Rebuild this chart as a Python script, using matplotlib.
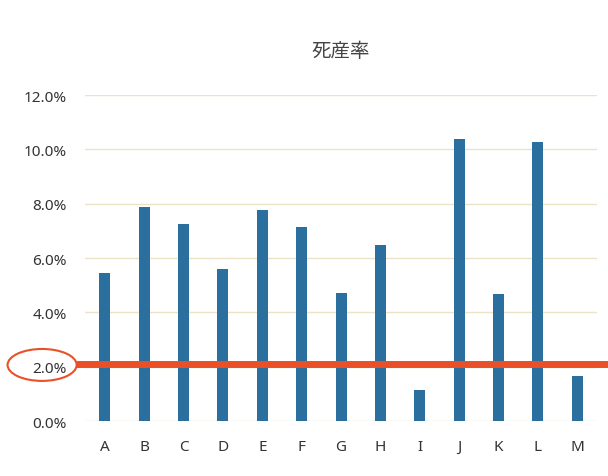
import matplotlib
matplotlib.use("Agg")
import matplotlib.pyplot as plt
from matplotlib.patches import Ellipse
from matplotlib.ticker import FuncFormatter

plt.rcParams['font.family'] = ['Noto Sans CJK JP', 'DejaVu Sans']

categories = ['A', 'B', 'C', 'D', 'E', 'F', 'G', 'H', 'I', 'J', 'K', 'L', 'M']
rates = [0.0544, 0.0789, 0.0726, 0.0559, 0.0778, 0.0715, 0.0470,
         0.0648, 0.0115, 0.1037, 0.0467, 0.1026, 0.0167]
threshold = 0.021
title = '死産率'

fig = plt.figure(figsize=(6.08, 4.77), dpi=100)
ax = fig.add_axes([0.14, 0.1153, 0.842, 0.6834])

# 棒グラフ
x = range(len(categories))
ax.bar(x, rates, width=0.28, color='#2b6f9f', zorder=3)

ax.set_ylim(0, 0.12)
ax.set_xlim(-0.5, len(categories) - 0.5)
ax.set_yticks([0, 0.02, 0.04, 0.06, 0.08, 0.10, 0.12])
ax.yaxis.set_major_formatter(FuncFormatter(lambda v, p: f'{v * 100:.1f}%'))
ax.set_xticks(list(x))
ax.set_xticklabels(categories)

ax.grid(axis='y', color='#ebe2c8', linewidth=1.0, zorder=0)
for s in ax.spines.values():
    s.set_visible(False)
ax.tick_params(length=0, labelsize=11, colors='#333333')
ax.tick_params(axis='x', pad=13)
ax.tick_params(axis='y', pad=13)
for lab in ax.get_xticklabels() + ax.get_yticklabels():
    lab.set_fontfamily(['Noto Sans', 'DejaVu Sans'])

ax.set_title(title, fontsize=14, color='#444444', pad=28)

# 赤い基準線と丸印
ax.axhline(threshold, xmin=-0.01, xmax=1.03, color='#ea5028',
           linewidth=5, clip_on=False, zorder=4)
ax.add_patch(Ellipse((-0.084, 0.172), 0.135, 0.098, transform=ax.transAxes,
                     fill=False, edgecolor='#ea5028', linewidth=1.5,
                     clip_on=False))

fig.savefig('out.png', dpi=100, facecolor='white')
